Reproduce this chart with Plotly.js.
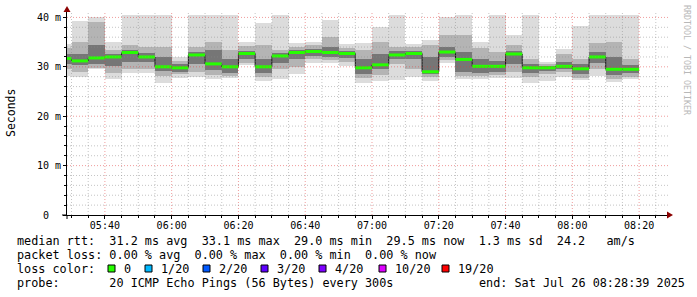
<!DOCTYPE html>
<html>
<head>
<meta charset="utf-8">
<script src="https://cdn.plot.ly/plotly-3.0.1.min.js"></script>
<style>html,body{margin:0;padding:0;background:#fff;}#chart{width:697px;height:297px;}</style>
</head>
<body>
<div id="chart"></div>
<script>
// ---- data ----
const binStart = ["05:25","05:30","05:35","05:40","05:45","05:50","05:55","06:00","06:05","06:10",
  "06:15","06:20","06:25","06:30","06:35","06:40","06:45","06:50","06:55","07:00",
  "07:05","07:10","07:15","07:20","07:25","07:30","07:35","07:40","07:45","07:50",
  "07:55","08:00","08:05","08:10","08:15"];
const lastBinEnd = "08:20";
const medianRtt = [31.7,31.2,31.8,32.0,32.9,32.0,30.0,29.8,32.4,30.6,
  30.0,32.7,30.0,32.2,32.9,33.1,32.9,32.7,29.8,30.4,
  32.4,32.7,29.0,33.0,31.5,30.1,30.1,32.6,29.8,29.8,
  30.1,29.6,32.0,29.5,29.5];
const maxRtt = [34.7,39.3,40.0,35.1,40.5,40.5,40.5,32.0,40.5,40.5,
  40.5,35.1,38.8,40.5,34.9,35.0,39.5,34.6,34.9,38.1,
  40.5,34.6,35.4,40.0,40.5,35.1,40.5,36.4,40.5,30.9,
  33.6,38.3,40.5,40.5,40.5];
const p90Rtt = [33.8,35.0,39.0,33.5,34.5,34.0,34.0,31.2,34.0,35.0,
  33.5,34.2,34.5,33.5,34.0,34.5,36.0,33.8,33.5,35.0,
  34.0,34.0,34.5,36.5,36.5,33.8,33.0,34.5,31.5,30.5,
  32.5,31.5,34.8,35.0,31.5];
const p75Rtt = [32.5,32.5,34.5,32.5,33.5,32.8,32.0,30.5,33.0,33.5,
  31.5,33.3,31.5,32.8,33.4,33.6,34.0,33.2,31.5,32.5,
  33.2,33.2,32.0,34.0,33.0,31.5,31.2,33.2,30.5,30.2,
  31.0,30.5,33.0,32.0,30.3];
const p25Rtt = [30.5,30.3,30.5,30.2,31.0,31.0,29.2,29.0,30.5,29.3,
  28.8,31.5,28.8,30.8,31.5,32.2,32.0,31.8,28.5,29.5,
  31.5,31.5,28.5,32.0,29.0,28.8,29.0,30.5,28.8,29.2,
  29.6,28.5,30.8,28.3,28.8];
const p10Rtt = [29.5,29.0,29.8,28.8,29.5,29.5,28.2,28.5,29.0,28.3,
  28.2,30.8,28.0,29.5,30.0,31.5,31.3,31.0,27.8,28.3,
  30.5,29.5,28.0,31.3,28.2,28.2,28.3,29.0,28.0,28.5,
  29.0,27.8,29.5,27.6,28.0];
const minRtt = [28.1,27.9,29.5,27.6,28.7,28.7,26.8,27.7,27.9,27.5,
  27.8,30.4,27.2,27.6,28.6,30.8,30.7,30.2,26.8,27.2,
  27.3,27.9,27.1,30.8,27.6,27.6,27.8,27.8,26.7,27.1,
  28.0,27.3,28.1,27.0,27.6];

const yTickVals = [0,10,20,30,40];
const yTickText = ["0  ","10 m","20 m","30 m","40 m"];

const lossLabels = ["0","1/20","2/20","3/20","4/20","10/20","19/20"];
const lossColors = ["#26ff00","#00b8ff","#0059ff","#5e00ff","#7e00ff","#dd00ff","#ff0000"];

const legendRow1 = "median rtt:  31.2 ms avg  33.1 ms max  29.0 ms min  29.5 ms now  1.3 ms sd  24.2   am/s";
const legendRow2 = "packet loss: 0.00 % avg  0.00 % max  0.00 % min  0.00 % now";
const legendRow3 = "loss color:";
const legendRow4 = "probe:       20 ICMP Echo Pings (56 Bytes) every 300s";
const endText = "end: Sat Jul 26 08:28:39 2025";
const watermark = "RRDTOOL / TOBI OETIKER";
const yTitle = "Seconds";

// ---- helpers ----
const DAY = "2025-07-26 ";
const xs = binStart.map(s => DAY + s);
const nb = s => s.replace(/ /g, "\u00a0");
const FONT = "DejaVu Sans Mono, monospace";
const L = 67, R = 29, T = 12, B = 82, W = 697, H = 297;
const PW = W - L - R, PH = H - T - B;
const px = p => (p - L) / PW;
const py = p => (H - B - p) / PH;
const STEP = 300000;

function band(lo, hi, color) {
  return {
    type: "bar", x: xs, base: lo, y: hi.map((h, i) => h - lo[i]),
    width: STEP, offset: 0,
    marker: {color: color, line: {width: 0}},
    hoverinfo: "skip", showlegend: false
  };
}

const traces = [
  band(minRtt, maxRtt, "#dcdcdc"),
  band(p10Rtt, p90Rtt, "#b4b4b4"),
  band(p25Rtt, p75Rtt, "#767676")
];

// dark step line joining the medians
traces.push({
  type: "scatter", mode: "lines",
  x: xs.concat([DAY + lastBinEnd]),
  y: medianRtt.concat([medianRtt[medianRtt.length - 1]]),
  line: {shape: "hv", color: "#1a1a1a", width: 1},
  hoverinfo: "skip", showlegend: false
});

// green median segments
const gx = [], gy = [];
xs.forEach((x, i) => {
  const end = i + 1 < xs.length ? xs[i + 1] : DAY + lastBinEnd;
  gx.push(x, end, null);
  gy.push(medianRtt[i], medianRtt[i], null);
});
traces.push({
  type: "scatter", mode: "lines", x: gx, y: gy,
  line: {color: lossColors[0], width: 3},
  hoverinfo: "skip", showlegend: false, connectgaps: false
});

// ---- grid drawn above the smoke ----
const shapes = [];
const minorCol = "rgba(140,140,140,0.5)", majorCol = "rgba(225,60,60,0.5)";
const pad = n => (n < 10 ? "0" : "") + n;
for (let m = 5 * 60 + 30; m <= 8 * 60 + 25; m += 5) {
  const t = DAY + pad(Math.floor(m / 60)) + ":" + pad(m % 60);
  shapes.push({type: "line", xref: "x", yref: "paper", x0: t, x1: t, y0: 0, y1: 1, layer: "above",
    line: {color: m % 20 === 0 ? majorCol : minorCol, width: 1, dash: "1px,2px"}});
}
for (let v = 2; v <= 40; v += 2) {
  shapes.push({type: "line", xref: "paper", yref: "y", x0: 0, x1: 1, y0: v, y1: v, layer: "above",
    line: {color: v % 10 === 0 ? majorCol : minorCol, width: 1, dash: "1px,2px"}});
}
// axis extensions and arrows
shapes.push({type: "line", xref: "paper", yref: "paper", x0: px(62), x1: px(67), y0: 0, y1: 0, layer: "above", line: {color: "#000", width: 1}});
shapes.push({type: "line", xref: "paper", yref: "paper", x0: 0, x1: 0, y0: py(219), y1: 0, layer: "above", line: {color: "#000", width: 1}});
shapes.push({type: "line", xref: "paper", yref: "paper", x0: 1, x1: px(669), y0: 0, y1: 0, layer: "above", line: {color: "#000", width: 1}});
shapes.push({type: "path", xref: "paper", yref: "paper", layer: "above",
  path: `M ${px(673)} ${py(215)} L ${px(667)} ${py(211.5)} L ${px(667)} ${py(218.5)} Z`,
  fillcolor: "#8b0000", line: {color: "#8b0000", width: 0}});
shapes.push({type: "path", xref: "paper", yref: "paper", layer: "above",
  path: `M ${px(67)} ${py(6)} L ${px(63.5)} ${py(12)} L ${px(70.5)} ${py(12)} Z`,
  fillcolor: "#8b0000", line: {color: "#8b0000", width: 0}});

// ---- legend text ----
const LF = 11.8;
const annotations = [];
function txt(s, x, y, extra) {
  annotations.push(Object.assign({
    text: nb(s), xref: "paper", yref: "paper", x: px(x), y: py(y),
    xanchor: "left", yanchor: "middle", showarrow: false,
    font: {family: FONT, size: LF, color: "#000"}, borderpad: 0
  }, extra || {}));
}
txt(legendRow1, 16, 241);
txt(legendRow2, 16, 255);
txt(legendRow3, 16, 269);
txt(legendRow4, 16, 283);
txt(endText, 478, 283);

const boxX = [108, 145, 203, 261, 319, 379, 442];
lossLabels.forEach((lab, i) => {
  shapes.push({type: "rect", xref: "paper", yref: "paper", layer: "above",
    x0: px(boxX[i]), x1: px(boxX[i] + 7), y0: py(265), y1: py(272),
    fillcolor: lossColors[i], line: {color: "#000", width: 1}});
  txt(lab, boxX[i] + 15, 269);
});

// axis title and watermark
annotations.push({text: yTitle, xref: "paper", yref: "paper", x: px(11), y: py(113),
  xanchor: "center", yanchor: "middle", textangle: -90, showarrow: false,
  font: {family: FONT, size: 11.5, color: "#000"}});
annotations.push({text: nb(watermark), xref: "paper", yref: "paper", x: px(687), y: py(60),
  xanchor: "center", yanchor: "middle", textangle: 90, showarrow: false,
  font: {family: FONT, size: 8.3, color: "#b8b8b8"}});

const layout = {
  width: W, height: H, autosize: false,
  margin: {l: L, r: R, t: T, b: B, pad: 0},
  paper_bgcolor: "#fff", plot_bgcolor: "#fff",
  barmode: "overlay", bargap: 0, showlegend: false,
  font: {family: FONT, size: 10, color: "#000"},
  xaxis: {
    type: "date", range: [DAY + "05:28:39", DAY + "08:28:39"],
    tick0: DAY + "00:00", dtick: 1200000, tickformat: "%H:%M",
    showgrid: false, zeroline: false, showline: true, linecolor: "#000", linewidth: 1,
    ticks: "outside", ticklen: 3, tickcolor: "#000", tickwidth: 1,
    ticklabelstandoff: -2,
    tickfont: {family: FONT, size: 10, color: "#000"},
    minor: {dtick: 300000, tick0: DAY + "00:00", ticks: "outside", ticklen: 2, tickcolor: "#000", showgrid: false},
    fixedrange: true
  },
  yaxis: {
    range: [0, 41.1], tickvals: yTickVals, ticktext: yTickText.map(nb),
    showgrid: false, zeroline: false, showline: true, linecolor: "#000", linewidth: 1,
    ticks: "outside", ticklen: 3, tickcolor: "#000", tickwidth: 1,
    tickfont: {family: FONT, size: 10, color: "#000"},
    minor: {dtick: 2, ticks: "outside", ticklen: 2, tickcolor: "#000", showgrid: false},
    fixedrange: true
  },
  shapes: shapes,
  annotations: annotations
};

Plotly.newPlot("chart", traces, layout, {displayModeBar: false, staticPlot: true});
</script>
</body>
</html>
